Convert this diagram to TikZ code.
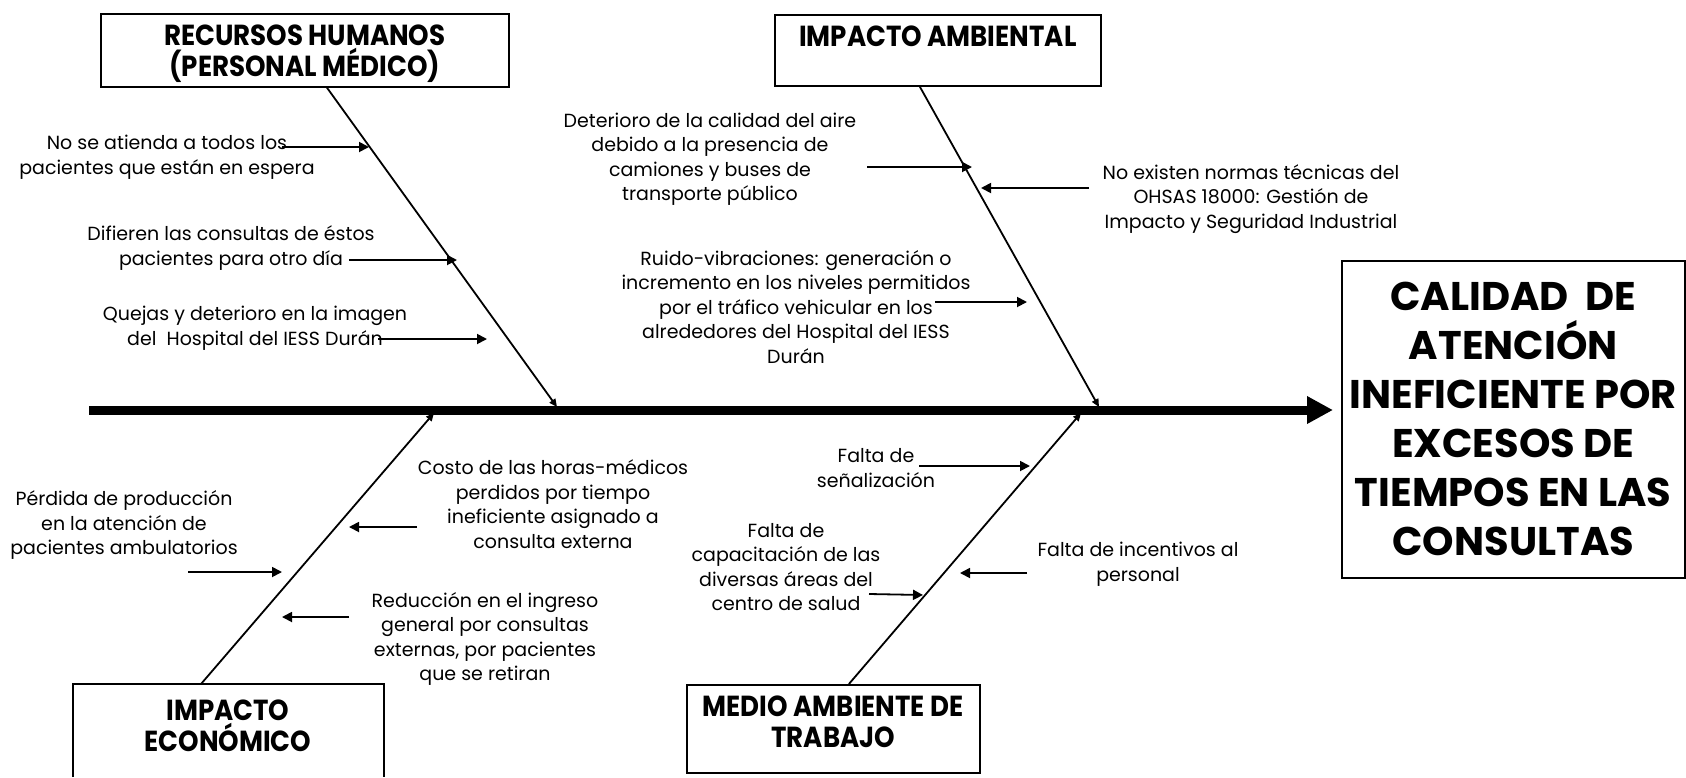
\documentclass[tikz,border=0pt]{standalone}
\usepackage{fontspec}
\setmainfont{Poppins}
\newfontfamily\condfont[FakeStretch=0.9]{Poppins}
\usetikzlibrary{arrows.meta,calc}
\begin{document}
\begin{tikzpicture}[x=1pt,y=-1pt,
  txt/.style={font=\fontsize{19}{24.5}\selectfont, align=center, inner sep=0pt, yshift=-2pt},
  boxline/.style={draw, line width=1.6pt, inner sep=0pt},
  cause/.style={font=\condfont\bfseries\fontsize{29}{31}\selectfont, align=center, inner sep=0pt},
  effect/.style={draw, line width=1.6pt, font=\bfseries\fontsize{40}{49}\selectfont, align=center, inner sep=0pt},
  minor/.style={line width=1.8pt, -{Triangle[width=10pt,length=10pt]}},
  bone/.style={line width=1.8pt, -{Triangle[width=7pt,length=8pt]}},
  spine/.style={line width=9pt, -{Triangle[width=26pt,length=26pt]}}]
\useasboundingbox (0,0) rectangle (1686,777);
\fill[white] (0,0) rectangle (1686,777);

% effect
\node[effect, minimum width=343pt, minimum height=317pt, anchor=north west] (eff) at (1341,260)
  {CALIDAD\ \ DE\\ATENCIÓN\\INEFICIENTE POR\\EXCESOS DE\\TIEMPOS EN LAS\\CONSULTAS};

% cause boxes
\node[boxline, minimum width=408pt, minimum height=73pt, anchor=north west] (rh) at (100,13) {};
\node[cause] (rht) at ($(rh.center)+(0,3)$) {RECURSOS HUMANOS\\(PERSONAL MÉDICO)};
\node[boxline, minimum width=326pt, minimum height=71pt, anchor=north west] (ia) at (774,14) {};
\node[cause] (iat) at ($(ia.center)+(0,-14)$) {IMPACTO AMBIENTAL};
\node[cause] (ie) at (228,726) {IMPACTO\\ECONÓMICO};
\draw[line width=1.6pt] (73,777) -- (73,684) -- (384,684) -- (384,777);
\node[boxline, minimum width=293pt, minimum height=88pt, anchor=north west] (ma) at (686,684) {};
\node[cause] (mat) at ($(ma.center)+(0,-7)$) {MEDIO AMBIENTE DE\\TRABAJO};

% spine
\coordinate (tail) at (89,410);
\draw[spine] (tail) -- ($(tail -| eff.west)+(-8,0)$);

% bones
\coordinate (s1) at (557,407);
\coordinate (s2) at (1099,407);
\coordinate (s3) at (434,413);
\coordinate (s4) at (1081,413);
\draw[bone] ($(rh.south west)!0.554!(rh.south east)$) -- (s1);
\draw[bone] ($(ia.south west)!0.445!(ia.south east)$) -- (s2);
\draw[bone] (201,684) -- (s3);
\draw[bone] ($(ma.north west)!0.553!(ma.north east)$) -- (s4);

% texts
\node[txt] (t1) at (167,155) {No se atienda a todos los\\pacientes que están en espera};
\node[txt] (t2) at (231,246) {Difieren las consultas de éstos\\pacientes para otro día};
\node[txt] (t3) at (255,326) {Quejas y deterioro en la imagen\\del\ \ Hospital del IESS Durán};
\node[txt] (t4) at (710,157) {Deterioro de la calidad del aire\\debido a la presencia de\\camiones y buses de\\transporte público};
\node[txt] (t5) at (1251,197) {No existen normas técnicas del\\OHSAS 18000: Gestión de\\Impacto y Seguridad Industrial};
\node[txt] (t6) at (796,305) {Ruido-vibraciones: generación o\\incremento en los niveles permitidos\\por el tráfico vehicular en los\\alrededores del Hospital del IESS\\Durán};
\node[txt] (t7) at (553,502) {Costo de las horas-médicos\\perdidos por tiempo\\ineficiente asignado a\\consulta externa};
\node[txt] (t8) at (124,523) {Pérdida de producción\\en la atención de\\pacientes ambulatorios};
\node[txt] (t9) at (485,637) {Reducción en el ingreso\\general por consultas\\externas, por pacientes\\que se retiran};
\node[txt] (t10) at (876,466) {Falta de\\señalización};
\node[txt] (t11) at (786,565) {Falta de\\capacitación de las\\diversas áreas del\\centro de salud};
\node[txt] (t12) at (1138,562) {Falta de incentivos al\\personal};

% minor arrows
\coordinate (a1) at (282,147);  \coordinate (b1) at (369,147);
\coordinate (a2) at (349,260);  \coordinate (b2) at (457,260);
\coordinate (a3) at (378,339);  \coordinate (b3) at (487,339);
\coordinate (a4) at (867,167);  \coordinate (b4) at (972,167);
\coordinate (a5) at (1089,188); \coordinate (b5) at (981,188);
\coordinate (a6) at (935,302);  \coordinate (b6) at (1027,302);
\coordinate (a7) at (417,527);  \coordinate (b7) at (349,527);
\coordinate (a8) at (188,572);  \coordinate (b8) at (282,572);
\coordinate (a9) at (349,617);  \coordinate (b9) at (282,617);
\coordinate (a10) at (919,466); \coordinate (b10) at (1030,466);
\coordinate (a11) at (869,594); \coordinate (b11) at (923,595);
\coordinate (a12) at (1027,573); \coordinate (b12) at (960,573);
\foreach \i in {1,...,12} \draw[minor] (a\i) -- (b\i);
\end{tikzpicture}
\end{document}
